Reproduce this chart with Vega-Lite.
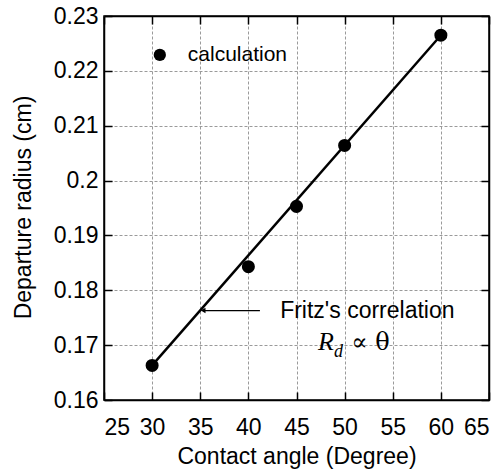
{
  "$schema": "https://vega.github.io/schema/vega-lite/v6.json",
  "width": 385,
  "height": 384,
  "autosize": {"type": "none"},
  "padding": {"left": 104, "top": 16, "right": 13, "bottom": 73},
  "background": "white",
  "config": {
    "view": {"stroke": "black", "strokeWidth": 1.5},
    "font": "Liberation Sans",
    "axis": {
      "domainColor": "black",
      "domainWidth": 1.5,
      "tickColor": "black",
      "tickWidth": 1.5,
      "tickSize": -8,
      "labelColor": "black",
      "labelFont": "Liberation Sans",
      "labelFontSize": 23,
      "titleFont": "Liberation Sans",
      "titleFontSize": 23,
      "titleFontWeight": "normal",
      "titleColor": "black",
      "gridColor": "#9a9a9a",
      "gridDash": [3, 2],
      "gridWidth": 1
    }
  },
  "datasets": {
    "fit": [
      {"angle": 30, "radius": 0.1663},
      {"angle": 60, "radius": 0.2265}
    ],
    "calc": [
      {"angle": 30, "radius": 0.1663},
      {"angle": 40, "radius": 0.1843},
      {"angle": 45, "radius": 0.1953},
      {"angle": 50, "radius": 0.2064},
      {"angle": 60, "radius": 0.2265}
    ],
    "legend": [
      {"angle": 30.8, "radius": 0.2229, "label": "calculation"}
    ],
    "arrow": [
      {"x1": 35.3, "x2": 41.2, "radius": 0.1763}
    ],
    "notes": [
      {"angle": 43.3, "radius": 0.1762, "label": "Fritz's correlation"}
    ],
    "formula": [
      {"angle": 47.23, "radius": 0.16912, "label": "R", "size": 26},
      {"angle": 48.9, "radius": 0.16784, "label": "d", "size": 18}
    ],
    "formula2": [
      {"angle": 50.7, "radius": 0.16912, "label": "∝ θ"}
    ]
  },
  "resolve": {"axis": {"x": "independent", "y": "independent"}},
  "layer": [
    {
      "data": {"name": "fit"},
      "mark": {"type": "line", "color": "black", "strokeWidth": 2.5},
      "encoding": {
        "x": {
          "field": "angle", "type": "quantitative",
          "scale": {"domain": [25, 65], "nice": false, "zero": false},
          "axis": {
            "orient": "bottom",
            "values": [25, 30, 35, 40, 45, 50, 55, 60, 65],
            "title": "Contact angle (Degree)",
            "labelPadding": 24,
            "titleY": 63,
            "titleBaseline": "alphabetic",
            "grid": true
          }
        },
        "y": {
          "field": "radius", "type": "quantitative",
          "scale": {"domain": [0.16, 0.23], "nice": false, "zero": false},
          "axis": {
            "orient": "left",
            "values": [0.16, 0.17, 0.18, 0.19, 0.2, 0.21, 0.22, 0.23],
            "format": "~g",
            "title": "Departure radius (cm)",
            "labelPadding": 14,
            "titleX": -74,
            "titleY": 191,
            "titleAngle": -90,
            "titleAlign": "center",
            "titleBaseline": "alphabetic",
            "grid": true
          }
        }
      }
    },
    {
      "data": {"name": "calc"},
      "mark": {"type": "point", "filled": true, "color": "black", "opacity": 1, "size": 170},
      "encoding": {
        "x": {
          "field": "angle", "type": "quantitative",
          "axis": {"orient": "top", "values": [25, 30, 35, 40, 45, 50, 55, 60, 65], "labels": false, "title": null, "grid": false}
        },
        "y": {
          "field": "radius", "type": "quantitative",
          "axis": {"orient": "right", "values": [0.16, 0.17, 0.18, 0.19, 0.2, 0.21, 0.22, 0.23], "labels": false, "title": null, "grid": false}
        }
      }
    },
    {
      "data": {"name": "legend"},
      "mark": {"type": "point", "filled": true, "color": "black", "opacity": 1, "size": 150},
      "encoding": {
        "x": {"field": "angle", "type": "quantitative", "axis": null},
        "y": {"field": "radius", "type": "quantitative", "axis": null}
      }
    },
    {
      "data": {"name": "legend"},
      "mark": {"type": "text", "align": "left", "baseline": "middle", "dx": 28, "fontSize": 21, "font": "Liberation Sans", "color": "black"},
      "encoding": {
        "x": {"field": "angle", "type": "quantitative", "axis": null},
        "y": {"field": "radius", "type": "quantitative", "axis": null},
        "text": {"field": "label"}
      }
    },
    {
      "data": {"name": "arrow"},
      "mark": {"type": "rule", "color": "black", "strokeWidth": 1.2},
      "encoding": {
        "x": {"field": "x1", "type": "quantitative", "axis": null},
        "x2": {"field": "x2"},
        "y": {"field": "radius", "type": "quantitative", "axis": null}
      }
    },
    {
      "data": {"name": "arrow"},
      "mark": {"type": "point", "shape": "triangle-left", "filled": true, "color": "black", "opacity": 1, "size": 30, "dx": 3},
      "encoding": {
        "x": {"field": "x1", "type": "quantitative", "axis": null},
        "y": {"field": "radius", "type": "quantitative", "axis": null}
      }
    },
    {
      "data": {"name": "notes"},
      "mark": {"type": "text", "align": "left", "baseline": "middle", "fontSize": 23, "font": "Liberation Sans", "color": "black"},
      "encoding": {
        "x": {"field": "angle", "type": "quantitative", "axis": null},
        "y": {"field": "radius", "type": "quantitative", "axis": null},
        "text": {"field": "label"}
      }
    },
    {
      "data": {"name": "formula"},
      "mark": {"type": "text", "align": "left", "baseline": "alphabetic", "font": "Liberation Serif", "fontStyle": "italic", "color": "black"},
      "encoding": {
        "x": {"field": "angle", "type": "quantitative", "axis": null},
        "y": {"field": "radius", "type": "quantitative", "axis": null},
        "text": {"field": "label"},
        "size": {"field": "size", "type": "quantitative", "scale": null, "legend": null}
      }
    },
    {
      "data": {"name": "formula2"},
      "mark": {"type": "text", "align": "left", "baseline": "alphabetic", "font": "DejaVu Serif", "fontSize": 24, "color": "black"},
      "encoding": {
        "x": {"field": "angle", "type": "quantitative", "axis": null},
        "y": {"field": "radius", "type": "quantitative", "axis": null},
        "text": {"field": "label"}
      }
    }
  ]
}
